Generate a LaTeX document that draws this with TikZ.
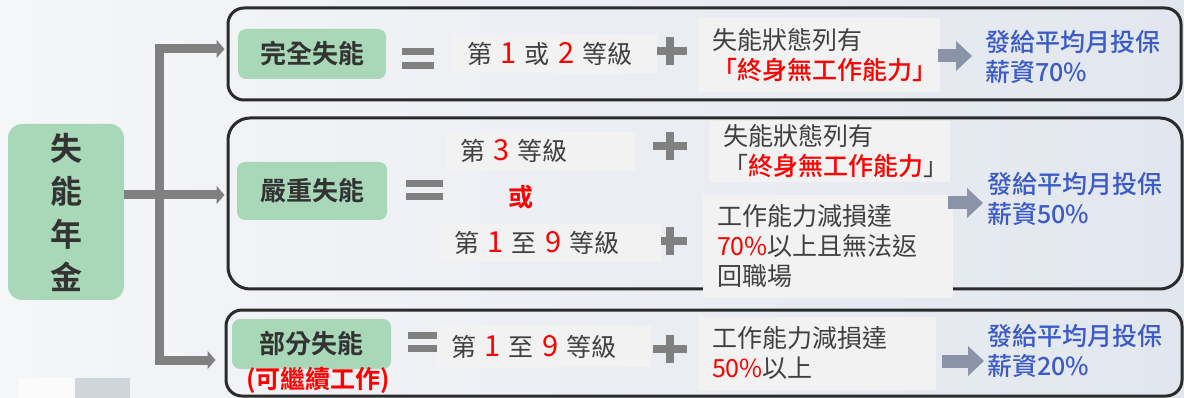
\documentclass[tikz,border=0pt]{standalone}
\usepackage{fontspec}
\setmainfont{Noto Sans CJK TC}[BoldFont={Noto Sans CJK TC Medium}]
\newfontfamily\heavyfont{Noto Sans CJK TC Bold}
\usetikzlibrary{arrows.meta}
\definecolor{bgleft}{HTML}{F5F6F8}
\definecolor{bgright}{HTML}{E2E6EE}
\definecolor{boxgreen}{HTML}{A9D8B8}
\definecolor{darktext}{HTML}{333333}
\definecolor{graytext}{HTML}{404040}
\definecolor{hlred}{HTML}{FF0000}
\definecolor{payblue}{HTML}{3A5BC8}
\definecolor{signgray}{HTML}{808080}
\definecolor{arrowgray}{HTML}{8A93A7}
\definecolor{condfill}{HTML}{F2F2F2}
\definecolor{panelline}{HTML}{2B2B2B}
\newcommand{\grade}[1]{{\color{hlred}\fontsize{29}{30}\selectfont #1}}
\newcommand{\hl}[1]{{\color{hlred}#1}}
\tikzset{
	catbox/.style={fill=boxgreen, rounded corners=8pt, text=darktext, font=\fontsize{26}{30}\selectfont\heavyfont, inner sep=0pt},
	panel/.style={draw=panelline, line width=3pt, rounded corners=16pt, inner sep=0pt},
	condbox/.style={fill=condfill, text=graytext, font=\fontsize{25}{30}\selectfont, inner xsep=14pt, inner ysep=0pt, align=left},
	paytext/.style={text=payblue, font=\fontsize{25}{30}\selectfont\bfseries, align=left, inner sep=0pt, anchor=west},
	branch/.style={draw=signgray, line width=9pt, -{Triangle[length=8pt,width=18pt]}},
	result/.style={draw=arrowgray, line width=13pt, -{Triangle[length=16pt,width=29pt]}},
	sign/.style={fill=signgray},
}
\begin{document}
\begin{tikzpicture}[x=1pt,y=-1pt]
	\useasboundingbox (0,0) rectangle (1184,398);
	\shade[left color=bgleft, right color=bgright] (0,0) rectangle (1184,398);
	\fill[white!60!bgleft] (19,378) rectangle (75,398);
	\fill[black!8!bgright] (75,378) rectangle (130,398);
	\node[panel, minimum width=953pt, minimum height=92pt] at (704.5,54) (p1) {};
	\node[panel, minimum width=954pt, minimum height=171pt, rounded corners=22pt] at (705,203.5) (p2) {};
	\node[panel, minimum width=956pt, minimum height=86pt] at (704,353) (p3) {};
	\node[catbox, minimum width=116pt, minimum height=176pt, rounded corners=14pt, align=center, font=\fontsize{32}{43}\selectfont\heavyfont] at (66,212) (main) {失\\能\\年\\金};
	\node[catbox, minimum width=148pt, minimum height=50pt] at (312,54) (full) {完全失能};
	\node[catbox, minimum width=150pt, minimum height=58pt] at (312,191) (severe) {嚴重失能};
	\node[catbox, minimum width=159pt, minimum height=50pt] at (311.5,344) (partial) {部分失能};
	\node[text=hlred, font=\fontsize{25}{26}\selectfont\heavyfont, inner sep=0pt] at (318,380) (partialnote) {(可繼續工作)};
	\coordinate (jt) at (159,49);
	\coordinate (jm) at (159,195);
	\coordinate (jb) at (159,360);
	\draw[branch, shorten >=2pt] (jb) -- (jt) -- (jt -| p1.west);
	\draw[branch, shorten >=2pt] (jm -| main.east) -- (jm -| p2.west);
	\draw[branch, shorten >=9pt] (jt) -- (jb) -- (jb -| p3.west);
	\fill[sign] (402,48) rectangle (434,55);
	\fill[sign] (402,62) rectangle (434,69);
	\fill[sign] (406,180) rectangle (443,187);
	\fill[sign] (406,193) rectangle (443,200);
	\fill[sign] (408,332) rectangle (437,339);
	\fill[sign] (408,345) rectangle (437,352);
	\foreach \cx/\cy in {669.5/51.5, 670/146, 670/241.5, 670/349} {
		\fill[sign] (\cx-17,\cy-4) rectangle (\cx+17,\cy+4);
		\fill[sign] (\cx-4,\cy-14) rectangle (\cx+4,\cy+14);
	}
	\node[condbox, minimum height=38pt, text width=176pt] at (555,54) (grade1) {第 \grade{1} 或 \grade{2} 等級};
	\node[condbox, minimum height=38pt, text width=161pt] at (540.5,151) (grade3) {第 \grade{3} 等級};
	\node[text=hlred, font=\fontsize{25}{28}\selectfont\heavyfont, inner sep=0pt] at (521,197) (orword) {或};
	\node[condbox, minimum height=38pt, text width=193pt] at (550.5,243) (gradeA) {第 \grade{1} 至 \grade{9} 等級};
	\node[condbox, minimum height=41pt, text width=186pt] at (544,346.5) (gradeB) {第 \grade{1} 至 \grade{9} 等級};
	\node[condbox, minimum height=74pt, text width=214pt] at (819,55) (state1) {失能狀態列有\\{\bfseries\hl{「終身無工作能力」}}};
	\node[condbox, minimum height=61pt, text width=213pt] at (829.5,151.5) (state2) {失能狀態列有\\「{\bfseries\hl{終身無工作能力}}」};
	\node[condbox, minimum height=103pt, text width=222pt] at (828,246.5) (loss1) {工作能力減損達\\\hl{70\%}以上且無法返\\回職場};
	\node[condbox, minimum height=73pt, text width=210pt] at (817,353.5) (loss2) {工作能力減損達\\\hl{50\%}以上};
	\node[paytext] at (985,57) (pay1) {發給平均月投保\\薪資70\%};
	\node[paytext] at (987,199) (pay2) {發給平均月投保\\薪資50\%};
	\node[paytext] at (987,351) (pay3) {發給平均月投保\\薪資20\%};
	\coordinate (r1) at (938,56);
	\coordinate (r2) at (948,203);
	\coordinate (r3) at (942,361);
	\draw[result, shorten >=13pt] (r1) -- (r1 -| pay1.west);
	\draw[result, shorten >=4pt] (r2) -- (r2 -| pay2.west);
	\draw[result, shorten >=3pt] (r3) -- (r3 -| pay3.west);
\end{tikzpicture}
\end{document}
